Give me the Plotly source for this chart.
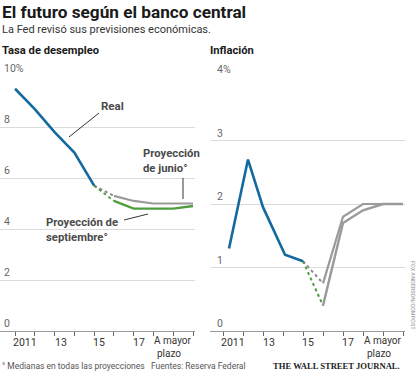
import plotly.graph_objects as go

# ---------------- data ----------------
unemp_real_x = [2010, 2011, 2012, 2013, 2014]
unemp_real = [9.5, 8.7, 7.8, 7.0, 5.7]
unemp_june_x = [2015, 2016, 2017, 2019]          # 2019 = "A mayor plazo"
unemp_june = [5.3, 5.1, 5.0, 5.0]
unemp_sep_x = [2015, 2016, 2017, 2018, 2019]
unemp_sep = [5.1, 4.8, 4.8, 4.8, 4.9]

infl_real_x = [2010.3, 2011.25, 2012, 2013.1, 2014]
infl_real = [1.3, 2.7, 1.95, 1.2, 1.1]
infl_june_x = [2015, 2016, 2017, 2019]
infl_june = [0.75, 1.8, 2.0, 2.0]
infl_sep_x = [2015, 2016, 2017, 2018, 2019]
infl_sep = [0.4, 1.7, 1.9, 2.0, 2.0]

x_label_pos = [2010.5, 2012.3, 2014.25, 2016.25]
x_label_text = ["2011", "13", "15", "17"]
long_run_pos = [2017.0, 2017.15]
long_run_lines = ["A mayor", "plazo"]
unemp_ticks = [0, 2, 4, 6, 8, 10]
unemp_ticktext = ["0", "2", "4", "6", "8", "10%"]
infl_ticks = [0, 1, 2, 3, 4]
infl_ticktext = ["0", "1", "2", "3", "4%"]

# ---------------- style ----------------
W, H = 420, 372
BLUE = "#14699f"
GRAY = "#9a9a9a"
GRAY_DOT = "#8a8a8a"
GREEN = "#4f9d3f"
SANS = "Roboto, Arial, sans-serif"
SERIF = "Liberation Serif, DejaVu Serif, serif"


def P(x, y):
    return x / W, 1 - y / H


fig = go.Figure()


def add_panel(xa, ya, rx, ry, jx, jy, sx, sy, proj_green_color):
    kw = dict(xaxis=xa, yaxis=ya, mode="lines", hoverinfo="skip", showlegend=False)
    fig.add_trace(go.Scatter(x=[rx[-1], jx[0]], y=[ry[-1], jy[0]],
                             line=dict(color=GRAY_DOT, width=2, dash="dot"), **kw))
    fig.add_trace(go.Scatter(x=[rx[-1], sx[0]], y=[ry[-1], sy[0]],
                             line=dict(color=GREEN, width=2, dash="dot"), **kw))
    fig.add_trace(go.Scatter(x=jx, y=jy, line=dict(color=GRAY, width=2.2), **kw))
    fig.add_trace(go.Scatter(x=sx, y=sy, line=dict(color=proj_green_color, width=2.4), **kw))
    fig.add_trace(go.Scatter(x=rx, y=ry, line=dict(color=BLUE, width=2.6), **kw))


add_panel("x", "y", unemp_real_x, unemp_real, unemp_june_x, unemp_june,
          unemp_sep_x, unemp_sep, GREEN)
add_panel("x2", "y2", infl_real_x, infl_real, infl_june_x, infl_june,
          infl_sep_x, infl_sep, GRAY)

xaxis_common = dict(
    showgrid=False, zeroline=False, showline=True, linecolor="#9a9a9a", linewidth=1,
    tickmode="array", tickvals=x_label_pos, ticktext=x_label_text,
    ticks="", showticklabels=False,
    minor=dict(tick0=2010, dtick=1, ticks="outside", ticklen=4, tickcolor="#666",
               tickwidth=1, showgrid=False),
    fixedrange=True,
)
yaxis_common = dict(
    showgrid=True, gridcolor="#dcdcdc", gridwidth=1, zeroline=False,
    showline=False, ticks="", showticklabels=False, fixedrange=True,
)

fig.update_layout(
    width=W, height=H,
    margin=dict(l=0, r=0, t=0, b=0),
    paper_bgcolor="white", plot_bgcolor="white",
    xaxis=dict(domain=[0, 195 / W], range=[2009.24, 2019.1], anchor="y", **xaxis_common),
    yaxis=dict(domain=[41 / H, 296 / H], range=[0, 10], tickvals=unemp_ticks,
               anchor="x", **yaxis_common),
    xaxis2=dict(domain=[210 / W, 405 / W], range=[2009.35, 2019.1], anchor="y2", **xaxis_common),
    yaxis2=dict(domain=[41 / H, 295 / H], range=[0, 4], tickvals=infl_ticks,
                anchor="x2", **yaxis_common),
)

ann = []


def text(x, y, s, size, color="#222", bold=False, family=SANS, xanchor="left",
         yanchor="middle", align="left"):
    px_, py_ = P(x, y)
    ann.append(dict(x=px_, y=py_, xref="paper", yref="paper", text=s, showarrow=False,
                    xanchor=xanchor, yanchor=yanchor, align=align, borderpad=0,
                    font=dict(size=size, color=color, family=family,
                              weight="bold" if bold else "normal")))


# titles
text(1, 12, "El futuro según el banco central", 17.2, "#1a1a1a", bold=True)
text(1, 29, "La Fed revisó sus previsiones económicas.", 11, "#333")
text(1, 50, "Tasa de desempleo", 11.2, "#1a1a1a", bold=True)
text(209, 50, "Inflación", 11.2, "#1a1a1a", bold=True)

# y labels above gridlines
for v, t in zip(unemp_ticks, unemp_ticktext):
    ann.append(dict(x=0, y=v, xref="x domain", yref="y", text=t, showarrow=False,
                    xanchor="left", yanchor="bottom", xshift=2, yshift=-1,
                    font=dict(size=10.5, color="#666", family=SANS)))
for v, t in zip(infl_ticks, infl_ticktext):
    ann.append(dict(x=0, y=v, xref="x2 domain", yref="y2", text=t, showarrow=False,
                    xanchor="left", yanchor="bottom", xshift=5, yshift=-1,
                    font=dict(size=10.5, color="#666", family=SANS)))

# x labels
for xr, yr in (("x", "y"), ("x2", "y2")):
    for v, t in zip(x_label_pos, x_label_text):
        ann.append(dict(x=v, y=0, xref=xr, yref=yr, text=t, showarrow=False,
                        xanchor="center", yanchor="top", yshift=-3,
                        font=dict(size=10.5, color="#333", family=SANS)))
    for i, (v, t) in enumerate(zip(long_run_pos, long_run_lines)):
        ann.append(dict(x=v, y=0, xref=xr, yref=yr, text=t, showarrow=False,
                        xanchor="left", yanchor="top", yshift=-3 - 12.5 * i,
                        borderpad=0,
                        font=dict(size=10, color="#333", family=SANS)))

# series labels
text(100, 106, "Real", 11.5, "#4a4a4a", bold=True)
text(142, 161, "Proyección<br>de junio°", 11.3, "#4a4a4a", bold=True)
text(45, 230, "Proyección de<br>septiembre°", 11.3, "#4a4a4a", bold=True)

# footer
text(1, 366, "° Medianas en todas las proyecciones", 8.5, "#555")
text(150, 366, "Fuentes: Reserva Federal", 8.5, "#555")
text(272, 366, "THE WALL STREET JOURNAL.", 8.6, "#222", bold=True, family=SERIF)

# vertical credit
cx, cy = P(413, 295)
ann.append(dict(x=cx, y=cy, xref="paper", yref="paper", text="FOX ANDERSON/COMPOST",
                showarrow=False, textangle=90, xanchor="center", yanchor="middle",
                font=dict(size=5.5, color="#888", family=SANS)))

fig.update_layout(annotations=ann)

# leader lines
shapes = []


def seg(x0, y0, x1, y1):
    a0, b0 = P(x0, y0)
    a1, b1 = P(x1, y1)
    shapes.append(dict(type="line", xref="paper", yref="paper", x0=a0, y0=b0, x1=a1, y1=b1,
                       line=dict(color="#333", width=1)))


seg(99, 113, 69, 137)
seg(183, 178, 183, 199)
seg(124, 220, 148, 214)
fig.update_layout(shapes=shapes)

fig.write_html("out.html", config={"displayModeBar": False},
               post_script="document.body.style.margin='0';document.body.style.padding='0';")
